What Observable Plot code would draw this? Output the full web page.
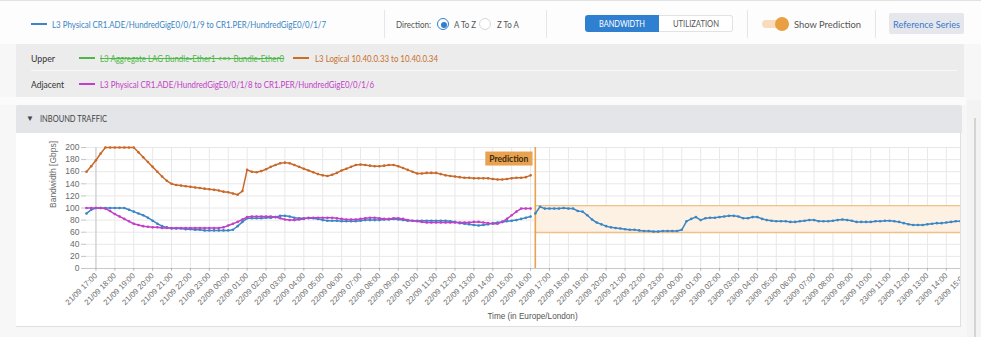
<!DOCTYPE html>
<html><head><meta charset="utf-8">
<script src="https://cdn.jsdelivr.net/npm/d3@7"></script>
<script src="https://cdn.jsdelivr.net/npm/@observablehq/plot@0.6"></script>
<style>
body{margin:0;width:981px;height:337px;overflow:hidden;position:relative;background:#f7f7f8;font-family:Lato,"Noto Sans",sans-serif;}
.a{position:absolute;white-space:nowrap;}
.txt{font-size:9.8px;line-height:14px;transform-origin:0 50%;}
.sep{position:absolute;top:10px;height:28px;width:1px;background:#e6e6e6;}
.sw{position:absolute;height:2px;width:16px;}
</style></head><body>
<div class="a" style="left:0;top:0;width:981px;height:44px;background:#fdfdfd;border-top:1px solid #e2e2e2;box-sizing:border-box;"></div>
<div class="sw" style="left:31px;top:23px;background:#3b86c3"></div>
<div class="a txt" data-w="274" style="left:52px;top:17px;color:#3b86c3">L3 Physical CR1.ADE/HundredGigE0/0/1/9 to CR1.PER/HundredGigE0/0/1/7</div>
<div class="sep" style="left:384px"></div>
<div class="a txt" data-w="35" style="left:396px;top:17px;color:#555">Direction:</div>
<div class="a" style="left:437px;top:18px;width:10px;height:10px;border:1.5px solid #2f80d0;border-radius:50%;background:#fff"></div>
<div class="a" style="left:440.5px;top:21.5px;width:6px;height:6px;border-radius:50%;background:#2f80d0"></div>
<div class="a txt" data-w="22" style="left:454px;top:17px;color:#555">A To Z</div>
<div class="a" style="left:479px;top:18px;width:10px;height:10px;border:1.5px solid #d8d8d8;border-radius:50%;background:#fff"></div>
<div class="a txt" data-w="22" style="left:497px;top:17px;color:#555">Z To A</div>
<div class="sep" style="left:546px"></div>
<div class="a" style="left:585px;top:15px;width:74px;height:17px;background:#2f80d0;border-radius:3px 0 0 3px"></div>
<div class="a" style="left:659px;top:15px;width:73px;height:15px;border:1px solid #e2e2e2;border-left:none;border-radius:0 3px 3px 0;background:#fff"></div>
<div class="a txt" data-w="46" style="left:599px;top:17px;color:#fff;font-size:9px">BANDWIDTH</div>
<div class="a txt" data-w="46" style="left:673px;top:17px;color:#555;font-size:9px">UTILIZATION</div>
<div class="sep" style="left:747px"></div>
<div class="a" style="left:762px;top:20px;width:26px;height:8px;border-radius:4px;background:#f8dcbc"></div>
<div class="a" style="left:775px;top:17px;width:14px;height:14px;border-radius:50%;background:#e9a043"></div>
<div class="a txt" data-w="67" style="left:794px;top:17px;color:#555">Show Prediction</div>
<div class="sep" style="left:875px"></div>
<div class="a" style="left:889px;top:13px;width:75px;height:21px;background:#e5e7ed;border-radius:2px"></div>
<div class="a txt" data-w="67" style="left:893px;top:17px;color:#3a78c8">Reference Series</div>

<div class="a" style="left:16px;top:44px;width:948px;height:53px;background:#ececec"></div>
<div class="a" style="left:31px;top:70px;width:926px;height:1px;background:#f8f8f8"></div>
<div class="a txt" data-w="24" style="left:31px;top:51px;color:#333">Upper</div>
<div class="sw" style="left:79px;top:57px;background:#4db848"></div>
<div class="a txt" data-w="184" style="left:100px;top:51px;color:#4db848;text-decoration:line-through">L3 Aggregate LAG Bundle-Ether1 &lt;=&gt; Bundle-Ether0</div>
<div class="sw" style="left:293px;top:57px;background:#c8702a"></div>
<div class="a txt" data-w="123" style="left:315px;top:51px;color:#c8702a">L3 Logical 10.40.0.33 to 10.40.0.34</div>
<div class="a txt" data-w="33" style="left:31px;top:77px;color:#333">Adjacent</div>
<div class="sw" style="left:79px;top:83px;background:#c23fc9"></div>
<div class="a txt" data-w="274" style="left:100px;top:77px;color:#c23fc9">L3 Physical CR1.ADE/HundredGigE0/0/1/8 to CR1.PER/HundredGigE0/0/1/6</div>

<div class="a" style="left:0;top:97px;width:966px;height:8px;background:#fbfbfb"></div>
<div class="a" style="left:16px;top:105px;width:946px;height:28px;background:#e3e5e9;border-radius:2px 2px 0 0"></div>
<div class="a" style="left:26px;top:113px;font-size:8px;color:#444">&#9660;</div>
<div class="a txt" data-w="67" style="left:40px;top:112px;font-size:9px;color:#444">INBOUND TRAFFIC</div>
<div class="a" style="left:16px;top:133px;width:944px;height:193px;background:#fff;border-right:1px solid #e0e0e0;border-bottom:1px solid #e0e0e0;box-sizing:content-box"></div>
<div id="chart" class="a" style="left:16px;top:133px;width:944px;height:193px;overflow:hidden"></div>
<div class="a" style="left:967px;top:100px;width:14px;height:237px;background:#f3f3f3"></div>
<div class="a" style="left:974px;top:118px;width:2px;height:219px;background:#d4d4d4"></div>

<script>
// ---- data ----
const seriesNames = ["A To Z", "Upper Logical", "Adjacent", "Prediction"];
const seriesColors = ["#3b86c3", "#c8692a", "#c23fc9", "#3b86c3"];
const historyStart = new Date(2023, 8, 21, 16, 30);   // 21/09 16:30, 15-min samples
const predictionStart = new Date(2023, 8, 22, 16, 15); // 22/09 16:15, 15-min samples
const stepMinutes = 15;
const xEnd = new Date(2023, 8, 23, 14, 45);
const blueValues = [91,97,100,100,100,100,100,100,100,97,94,91,88,84,79,74,70,68,66,66,66,65,65,64,64,63,63,63,63,63,63,64,70,77,83,83,83,83,84,84,85,87,87,86,84,83,83,83,83,82,80,79,79,79,78,78,78,78,79,80,80,80,80,81,81,82,81,80,79,79,79,79,79,79,79,79,79,78,77,75,74,73,72,71,72,73,75,76,77,78,79,80,82,84,86];
const orangeValues = [160,169,179,190,200,200,200,200,200,200,200,192,184,176,168,160,152,145,140,138,137,136,135,134,133,132,131,130,129,127,126,124,122,128,163,160,159,161,164,168,171,174,175,174,171,168,165,162,159,156,154,153,155,158,162,165,168,171,172,171,170,169,169,170,171,171,169,166,163,160,157,157,158,158,158,156,154,153,152,151,150,150,149,149,149,149,148,147,147,148,149,150,150,151,154];
const magentaValues = [100,100,100,100,99,95,90,86,82,78,74,72,70,69,68,68,67,67,67,67,67,67,67,67,67,67,67,67,67,68,71,74,77,81,85,86,86,86,86,86,85,83,81,80,80,81,82,84,84,84,84,84,84,83,82,81,81,81,82,83,84,84,83,82,82,83,83,82,80,79,78,77,76,76,76,76,76,76,76,76,76,76,77,77,76,75,74,74,77,82,88,94,99,99,99];
const predictionValues = [91,102,99,99,99,99,100,99,99,95,94,88,81,76,73,70,68,67,66,65,64,64,63,62,62,61,61,62,62,62,62,64,78,82,85,80,83,84,84,85,86,87,87,86,83,83,85,85,82,80,79,78,78,78,77,77,78,79,80,80,78,78,78,79,80,81,80,79,77,77,77,77,78,78,79,79,78,77,75,73,72,72,72,73,74,75,75,76,77,78,78,78];
const bandLower = 59.5, bandUpper = 104;
const yTicks = [0,20,40,60,80,100,120,140,160,180,200];
const tickStart = new Date(2023, 8, 21, 17), tickEnd = new Date(2023, 8, 23, 16);
const yLabel = "Bandwidth [Gbps]";
const xLabel = "Time (in Europe/London)";
const predLabel = "Prediction";

// ---- fit UI text widths ----
function fit() {
  document.querySelectorAll("[data-w]").forEach(el => {
    el.style.transform = "";
    const w = el.getBoundingClientRect().width;
    if (w > 0) el.style.transform = `scaleX(${(+el.dataset.w / w).toFixed(4)})`;
  });
}
fit();

// ---- build rows ----
const at = (start, i) => new Date(start.getTime() + i * stepMinutes * 60000);
const rows = [];
blueValues.forEach((v, i) => rows.push({series: "A To Z", time: at(historyStart, i), value: v}));
orangeValues.forEach((v, i) => rows.push({series: "Upper Logical", time: at(historyStart, i), value: v}));
magentaValues.forEach((v, i) => rows.push({series: "Adjacent", time: at(historyStart, i), value: v}));
predictionValues.forEach((v, i) => rows.push({series: "Prediction", time: at(predictionStart, i), value: v}));
const hourTicks = d3.timeHour.range(tickStart, tickEnd);
const gridTicks = hourTicks.filter(t => t <= xEnd);

const chart = Plot.plot({
  width: 944, height: 193,
  marginLeft: 70, marginRight: 0, marginTop: 14, marginBottom: 58,
  style: {fontFamily: "'Liberation Sans', Arial, sans-serif", fontSize: "8.5px", color: "#6b6b6b", background: "transparent", overflow: "visible"},
  x: {type: "time", domain: [historyStart, xEnd]},
  y: {domain: [0, 200]},
  color: {domain: seriesNames, range: seriesColors},
  marks: [
    Plot.gridX({ticks: gridTicks, stroke: "#e8e8e8", strokeOpacity: 1}),
    Plot.gridY({ticks: yTicks, stroke: "#e8e8e8", strokeOpacity: 1}),
    Plot.rect([{a: predictionStart, b: xEnd, lo: bandLower, hi: bandUpper}], {x1: "a", x2: "b", y1: "lo", y2: "hi", fill: "#fdf1e4"}),
    Plot.ruleY([bandLower, bandUpper], {x1: predictionStart, x2: xEnd, stroke: "#f1bf88", strokeWidth: 1.3}),
    Plot.ruleX([tickStart], {stroke: "#c9c9c9"}),
    Plot.ruleY([0], {stroke: "#c9c9c9"}),
    Plot.ruleX([predictionStart], {stroke: "#e9a24f", strokeWidth: 1.6}),
    Plot.line(rows, {x: "time", y: "value", z: "series", stroke: "series", strokeWidth: 1.5}),
    Plot.dot(rows, {x: "time", y: "value", fill: "series", r: 1.3}),
    Plot.text([predictionStart], {x: d => d, frameAnchor: "top", dy: 8, dx: -7, textAnchor: "end", text: () => predLabel, fill: "#3a2a10", fontWeight: 700, fontSize: 8.5, fontFamily: "Lato, 'Noto Sans', sans-serif"}),
    Plot.text([yLabel], {frameAnchor: "left", dx: -33, rotate: -90, fontSize: 8.5}),
    Plot.text([xLabel], {frameAnchor: "bottom", dx: 9, dy: 50, fontSize: 8.2, fill: "#555"}),
    Plot.axisY({ticks: yTicks, tickSize: 5, tickPadding: 2, strokeOpacity: 0.4, fontSize: 8.5, label: null}),
    Plot.axisX({ticks: hourTicks, tickFormat: d3.timeFormat("%d/%m %H:%M"), tickRotate: -45, tickSize: 3, tickPadding: 3, strokeOpacity: 0.4, fontSize: 7.8, label: null})
  ]
});
document.getElementById("chart").appendChild(chart);

// orange badge behind the prediction label (same local transform as the text)
const t = Array.from(chart.querySelectorAll("text")).find(e => e.textContent === predLabel);
if (t) {
  const bb = t.getBBox();
  const r = document.createElementNS("http://www.w3.org/2000/svg", "rect");
  r.setAttribute("x", bb.x - 4); r.setAttribute("y", bb.y - 2);
  r.setAttribute("width", bb.width + 8); r.setAttribute("height", bb.height + 4);
  r.setAttribute("fill", "#e9a24f");
  const tr = t.getAttribute("transform");
  if (tr) r.setAttribute("transform", tr);
  t.parentNode.insertBefore(r, t);
}
</script>
</body></html>
